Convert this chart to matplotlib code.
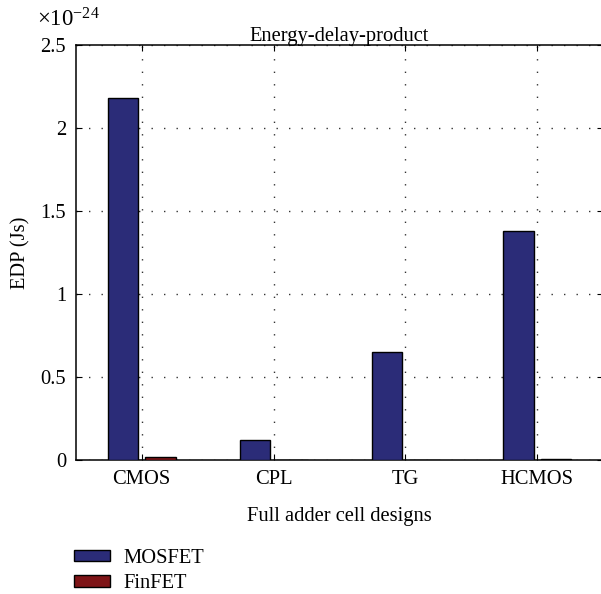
import matplotlib
matplotlib.use("Agg")
import matplotlib.pyplot as plt
import numpy as np
from matplotlib.ticker import FuncFormatter

# ---- data ----
designs = ["CMOS", "CPL", "TG", "HCMOS"]
edp_mosfet = [2.18e-24, 0.124e-24, 0.654e-24, 1.378e-24]
edp_finfet = [0.022e-24, 0.003e-24, 0.003e-24, 0.006e-24]
series_names = ["MOSFET", "FinFET"]
y_ticks = [0, 0.5e-24, 1.0e-24, 1.5e-24, 2.0e-24, 2.5e-24]
scale = 1e-24

plt.rcParams['font.family'] = ['Liberation Serif', 'DejaVu Serif']
plt.rcParams['mathtext.fontset'] = 'custom'
plt.rcParams['mathtext.rm'] = 'Liberation Serif'
plt.rcParams['mathtext.it'] = 'Liberation Serif:italic'

FS = 14.8
fig = plt.figure(figsize=(6.01, 5.94), dpi=100)
ax = fig.add_axes([75.8/601, (594-460.3)/594, (603.3-75.8)/601, (460.3-45)/594])

x = np.arange(1, len(designs) + 1)
off = 0.143
w = 0.229
colors = ["#2b2c78", "#7e1417"]
b1 = ax.bar(x - off, edp_mosfet, w, color=colors[0], edgecolor="black", linewidth=1.0, zorder=3, label=series_names[0])
b2 = ax.bar(x + off, edp_finfet, w, color=colors[1], edgecolor="black", linewidth=1.0, zorder=3, label=series_names[1])

ax.set_xlim(0.5, 4.5)
ax.set_ylim(0, 2.5e-24)
ax.set_xticks(x)
ax.set_xticklabels(designs, fontsize=FS)
ax.set_yticks(y_ticks)
ax.yaxis.set_major_formatter(FuncFormatter(lambda v, p: "%g" % round(v / scale, 6)))
ax.tick_params(axis='both', direction='in', length=4, width=0.8, labelsize=FS,
               top=True, right=True, pad=7)

ax.grid(True, linestyle=(0, (1, 8)), color="#333333", linewidth=1.0, zorder=0)
for s in ax.spines.values():
    s.set_linewidth(1.1)

ax.set_title("Energy-delay-product", fontsize=FS, pad=3)
ax.set_xlabel("Full adder cell designs", fontsize=FS, labelpad=13)
ax.set_ylabel("EDP (Js)", fontsize=FS, labelpad=7)

fig.text(36.7/601, (594-26.7)/594, r"$\times 10^{-24}$", fontsize=16.5, ha="left", va="baseline")

fig.legend(handles=[b1, b2], labels=series_names, loc="center left",
           bbox_to_anchor=(74/601, (594-571)/594), frameon=False, fontsize=FS,
           handlelength=1.75, handleheight=0.48, handletextpad=0.65,
           labelspacing=0.32, borderpad=0, borderaxespad=0)

fig.savefig("out.png", dpi=100)
